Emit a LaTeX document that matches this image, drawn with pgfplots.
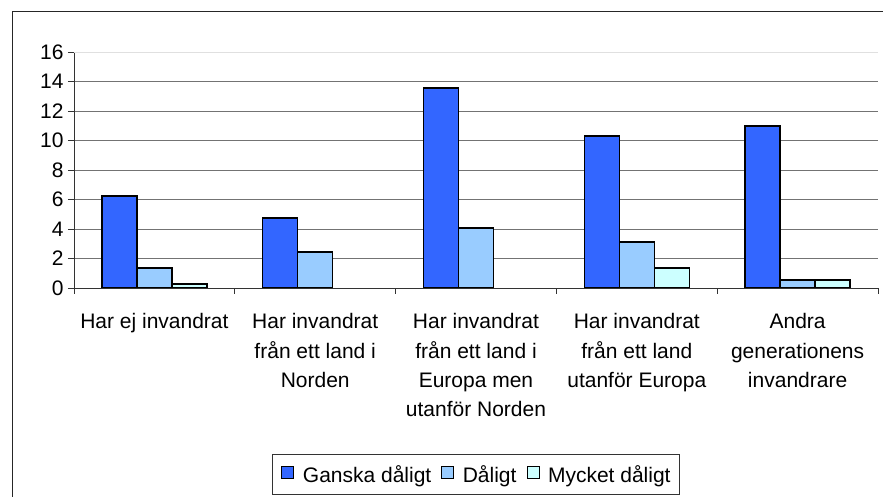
\documentclass[border=0pt]{standalone}
\usepackage{pgfplots}
\pgfplotsset{compat=1.18}
\usepackage{fontspec}
\setmainfont{Liberation Sans}
\definecolor{bA}{HTML}{3366FF}
\definecolor{bB}{HTML}{99CCFF}
\definecolor{bC}{HTML}{CCFFFF}
\begin{document}
\begin{tikzpicture}[x=1pt,y=1pt]
\useasboundingbox (0,0) rectangle (883,497);
\draw[line width=1pt,black!85] (12,-20) -- (12,485) -- (900,485);
\begin{axis}[
  at={(74pt,209pt)}, anchor=south west,
  scale only axis, width=804pt, height=236pt,
  xmin=-0.5, xmax=4.5, ymin=0, ymax=16,
  axis x line=bottom, axis y line=left,
  axis line style={-, line width=0.9pt, black!80},
  ytick={0,2,...,14},
  extra y ticks={16},
  extra y tick style={grid style={line width=0.9pt, black!12}},
  ymajorgrids, grid style={line width=0.9pt, black!55},
  xtick={-0.5,0.5,1.5,2.5,3.5,4.5},
  x tick label as interval,
  xticklabels={Har ej invandrat,{Har invandrat\\från ett land i\\Norden},{Har invandrat\\från ett land i\\Europa men\\utanför Norden},{Har invandrat\\från ett land\\utanför Europa},{Andra\\generationens\\invandrare}},
  tick align=outside, major tick length=6pt,
  tick style={black!80, line width=0.9pt},
  /pgf/number format/assume math mode=true,
  yticklabel style={font=\fontsize{21}{24}\selectfont, xshift=-1pt},
  xticklabel style={font=\fontsize{21}{29.3}\selectfont, align=center, yshift=-16pt},
  ybar=0pt, bar width=35pt,
  legend style={at={(0.5,-0.703)}, anchor=north, draw=black!80, line width=0.9pt,
    font=\fontsize{21}{24}\selectfont, legend columns=3,
    nodes={inner sep=0pt},
    /tikz/every even column/.append style={column sep=10pt},
    inner xsep=9pt, inner ysep=11pt},
  legend image code/.code={\draw[#1, line width=1pt, draw=black] (0pt,-4pt) rectangle (12pt,8pt); \path[draw=none,fill=none] (12pt,0pt) -- (21pt,0pt);},
]
\addplot[fill=bA, draw=black, line width=1.4pt] coordinates {(0,6.24) (1,4.75) (2,13.56) (3,10.3) (4,10.98)};
\addplot[fill=bB, draw=black, line width=1.4pt] coordinates {(0,1.36) (1,2.44) (2,4.07) (3,3.12) (4,0.54)};
\addplot[fill=bC, draw=black, line width=1.4pt] coordinates {(0,0.27) (3,1.36) (4,0.54)};
\legend{Ganska dåligt, Dåligt, Mycket dåligt}
\end{axis}
\end{tikzpicture}
\end{document}
